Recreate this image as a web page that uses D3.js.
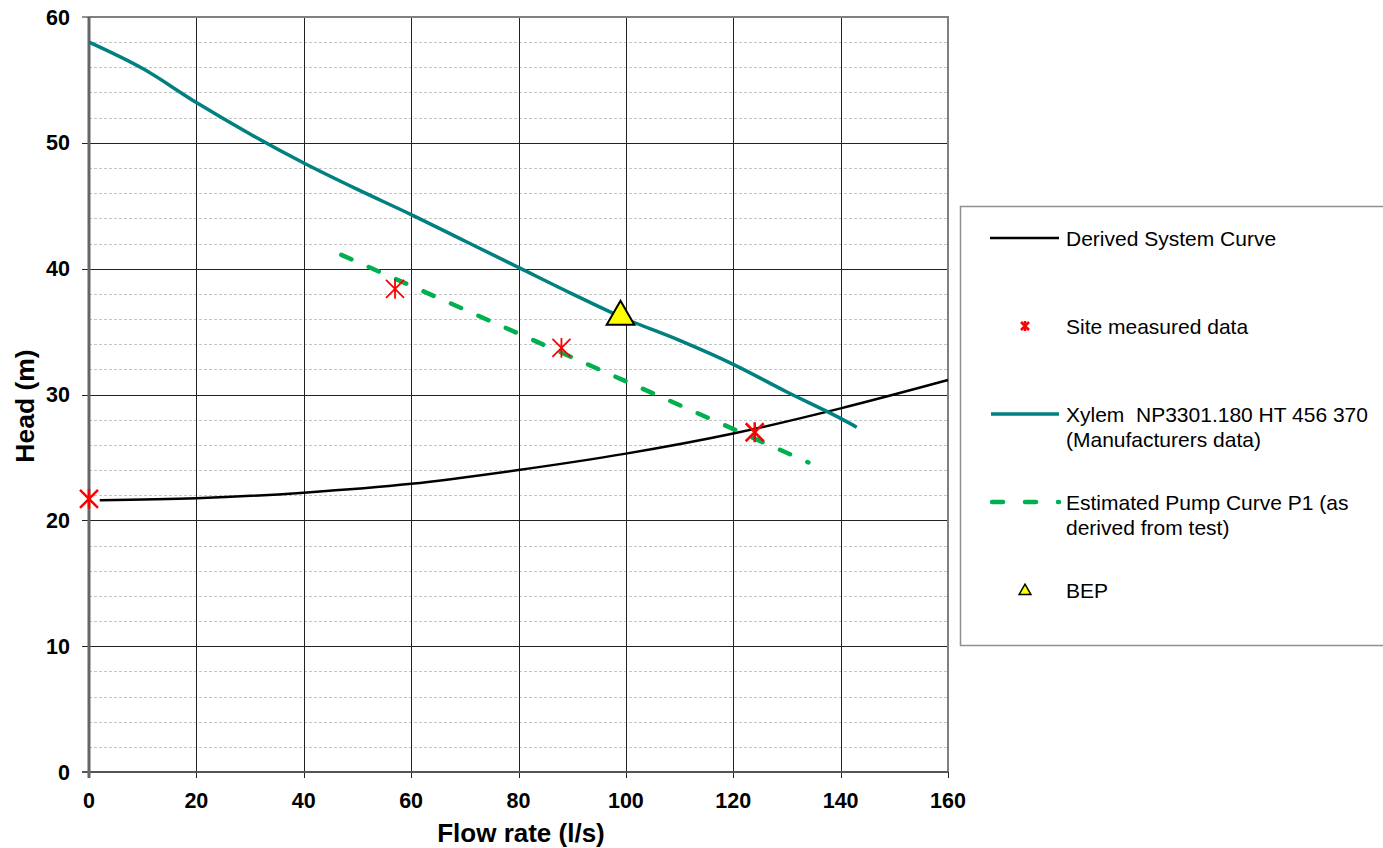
<!DOCTYPE html>
<html>
<head>
<meta charset="utf-8">
<script src="https://cdn.jsdelivr.net/npm/d3@7"></script>
<style>
body { margin: 0; background: #fff; }
text { font-family: Arial, "Liberation Sans", sans-serif; white-space: pre; }
</style>
</head>
<body>
<script>
/* Data */
var xTicks = [0, 20, 40, 60, 80, 100, 120, 140, 160];
var yTicks = [0, 10, 20, 30, 40, 50, 60];

var systemQ = [2, 20, 40, 60, 80, 100, 120, 140, 160];
var systemH = [21.6, 21.75, 22.2, 22.9, 24.0, 25.3, 26.9, 28.9, 31.15];

var xylemQ = [0, 10, 20, 30, 40, 50, 60, 70, 80, 90, 100, 110, 120, 130, 140, 143];
var xylemH = [58.0, 55.9, 53.2, 50.7, 48.4, 46.3, 44.3, 42.2, 40.1, 38.0, 36.0, 34.3, 32.4, 30.2, 28.1, 27.4];

var estQ = [47, 134];
var estH = [41.1, 24.6];

var siteQ = [0, 57, 88, 124];
var siteH = [21.7, 38.4, 33.7, 27.0];
var siteBig = [true, false, false, true];

var bepQ = [99];
var bepH = [36.5];

var legendLabels = [
	["Derived System Curve"],
	["Site measured data"],
	["Xylem  NP3301.180 HT 456 370", "(Manufacturers data)"],
	["Estimated Pump Curve P1 (as", "derived from test)"],
	["BEP"]
];

/* Display setup */
var width = 1383, height = 848,
	plot = {left: 89, right: 948, top: 17, bottom: 772},
	svg = d3.select("body").append("svg")
		.attr("width", width)
		.attr("height", height);

var x = d3.scaleLinear().domain([0, 160]).range([plot.left, plot.right]),
	y = d3.scaleLinear().domain([0, 60]).range([plot.bottom, plot.top]);

var zip = function(a, b) { return a.map(function(d, i) { return [d, b[i]]; }); };

/* Minor dashed gridlines every 2 m */
var minor = d3.range(2, 60, 2).filter(function(d) { return d % 10 != 0; });
svg.append("g").selectAll("line")
	.data(minor)
	.enter().append("line")
		.attr("x1", plot.left).attr("x2", plot.right)
		.attr("y1", function(d) { return Math.round(y(d)) + 0.5; })
		.attr("y2", function(d) { return Math.round(y(d)) + 0.5; })
		.style("stroke", "#c4c4c4")
		.style("stroke-dasharray", "3,2");

/* Major gridlines */
svg.append("g").selectAll("line")
	.data(yTicks.filter(function(d) { return d > 0 && d < 60; }))
	.enter().append("line")
		.attr("x1", plot.left - 7).attr("x2", plot.right)
		.attr("y1", function(d) { return Math.round(y(d)) + 0.5; })
		.attr("y2", function(d) { return Math.round(y(d)) + 0.5; })
		.style("stroke", "#222");

svg.append("g").selectAll("line")
	.data(xTicks.filter(function(d) { return d > 0 && d < 160; }))
	.enter().append("line")
		.attr("y1", plot.top).attr("y2", plot.bottom + 6)
		.attr("x1", function(d) { return Math.round(x(d)) + 0.5; })
		.attr("x2", function(d) { return Math.round(x(d)) + 0.5; })
		.style("stroke", "#222");

/* Plot border / axes */
svg.append("line") // top
	.attr("x1", plot.left).attr("x2", plot.right + 1)
	.attr("y1", plot.top).attr("y2", plot.top)
	.style("stroke", "#808080").style("stroke-width", 2);
svg.append("line") // right
	.attr("x1", plot.right).attr("x2", plot.right)
	.attr("y1", plot.top).attr("y2", plot.bottom)
	.style("stroke", "#808080").style("stroke-width", 2);
svg.append("line") // bottom
	.attr("x1", plot.left - 7).attr("x2", plot.right)
	.attr("y1", plot.bottom).attr("y2", plot.bottom)
	.style("stroke", "#555").style("stroke-width", 2);
svg.append("line") // left
	.attr("x1", plot.left).attr("x2", plot.left)
	.attr("y1", plot.top).attr("y2", plot.bottom + 6)
	.style("stroke", "#666").style("stroke-width", 3);

// end tick marks
svg.append("line").attr("x1", plot.left - 7).attr("x2", plot.left)
	.attr("y1", plot.top).attr("y2", plot.top).style("stroke", "#222");
svg.append("line").attr("x1", plot.right + 0.5).attr("x2", plot.right + 0.5)
	.attr("y1", plot.bottom).attr("y2", plot.bottom + 6).style("stroke", "#222");

/* Tick labels */
svg.append("g").selectAll("text")
	.data(yTicks)
	.enter().append("text")
		.attr("x", 70)
		.attr("y", function(d) { return y(d) + 7.5; })
		.attr("text-anchor", "end")
		.style("font-size", "21.5px")
		.style("font-weight", "bold")
		.text(function(d) { return d; });

svg.append("g").selectAll("text")
	.data(xTicks)
	.enter().append("text")
		.attr("x", function(d) { return x(d); })
		.attr("y", 808)
		.attr("text-anchor", "middle")
		.style("font-size", "21.5px")
		.style("font-weight", "bold")
		.text(function(d) { return d; });

svg.append("text")
	.attr("x", 521)
	.attr("y", 842)
	.attr("text-anchor", "middle")
	.style("font-size", "26px")
	.style("font-weight", "bold")
	.text("Flow rate (l/s)");

svg.append("text")
	.attr("transform", "translate(34,406) rotate(-90)")
	.attr("text-anchor", "middle")
	.style("font-size", "26.5px")
	.style("font-weight", "bold")
	.text("Head (m)");

/* Series */
var line = d3.line()
	.x(function(d) { return x(d[0]); })
	.y(function(d) { return y(d[1]); });

svg.append("path")
	.datum(zip(systemQ, systemH))
	.attr("d", line.curve(d3.curveMonotoneX))
	.style("fill", "none")
	.style("stroke", "#000")
	.style("stroke-width", 2.5);

svg.append("path")
	.datum(zip(xylemQ, xylemH))
	.attr("d", line.curve(d3.curveMonotoneX))
	.style("fill", "none")
	.style("stroke", "#008080")
	.style("stroke-width", 3.5);

svg.append("path")
	.datum(zip(estQ, estH))
	.attr("d", line.curve(d3.curveLinear))
	.style("fill", "none")
	.style("stroke", "#00b050")
	.style("stroke-width", 4.5)
	.style("stroke-linecap", "round")
	.style("stroke-dasharray", "11,19");

function asterisk(g, cx, cy, r, w) {
	var p = "M" + (cx - r) + "," + (cy - r) + "L" + (cx + r) + "," + (cy + r) +
		"M" + (cx - r) + "," + (cy + r) + "L" + (cx + r) + "," + (cy - r) +
		"M" + cx + "," + (cy - r * 1.1) + "L" + cx + "," + (cy + r * 1.1);
	g.append("path").attr("d", p)
		.style("stroke", "#ff0000").style("stroke-width", w).style("fill", "none");
}

var siteG = svg.append("g");
siteQ.forEach(function(q, i) {
	asterisk(siteG, x(q), y(siteH[i]), 9, siteBig[i] ? 2.5 : 1.8);
});

var tri = d3.symbol().type(d3.symbolTriangle).size(330);
svg.append("g").selectAll("path")
	.data(zip(bepQ, bepH))
	.enter().append("path")
		.attr("d", tri)
		.attr("transform", function(d) { return "translate(" + x(d[0]) + "," + (y(d[1]) + 4) + ")"; })
		.style("fill", "#ffff00")
		.style("stroke", "#000")
		.style("stroke-width", 2);

/* Legend */
var legend = svg.append("g");
legend.append("rect")
	.attr("x", 960.5).attr("y", 206.5)
	.attr("width", 440).attr("height", 439)
	.style("fill", "#fff")
	.style("stroke", "#909090")
	.style("stroke-width", 1.5);

var rowY = [238, 326, 414, 502, 590];
legendLabels.forEach(function(lines, i) {
	var ry = rowY[i];
	lines.forEach(function(t, j) {
		legend.append("text")
			.attr("x", 1066)
			.attr("y", ry + 7.5 + j * 25.5)
			.style("font-size", "21px")
			.text(t);
	});
});

legend.append("line").attr("x1", 990).attr("x2", 1059)
	.attr("y1", rowY[0]).attr("y2", rowY[0])
	.style("stroke", "#000").style("stroke-width", 2.5);
legend.append("path")
	.attr("d", "M1021,322L1029,330M1021,330L1029,322M1025,321L1025,331")
	.style("stroke", "#ff0000").style("stroke-width", 2.5);
legend.append("line").attr("x1", 991).attr("x2", 1059)
	.attr("y1", rowY[2]).attr("y2", rowY[2])
	.style("stroke", "#008080").style("stroke-width", 3.5);
legend.append("line").attr("x1", 992).attr("x2", 1059)
	.attr("y1", rowY[3]).attr("y2", rowY[3])
	.style("stroke", "#00b050").style("stroke-width", 4.5)
	.style("stroke-linecap", "round")
	.style("stroke-dasharray", "11,22");
legend.append("path")
	.attr("d", d3.symbol().type(d3.symbolTriangle).size(60))
	.attr("transform", "translate(1025," + (rowY[4] + 1) + ")")
	.style("fill", "#ffff00")
	.style("stroke", "#000")
	.style("stroke-width", 1.5);
</script>
</body>
</html>
